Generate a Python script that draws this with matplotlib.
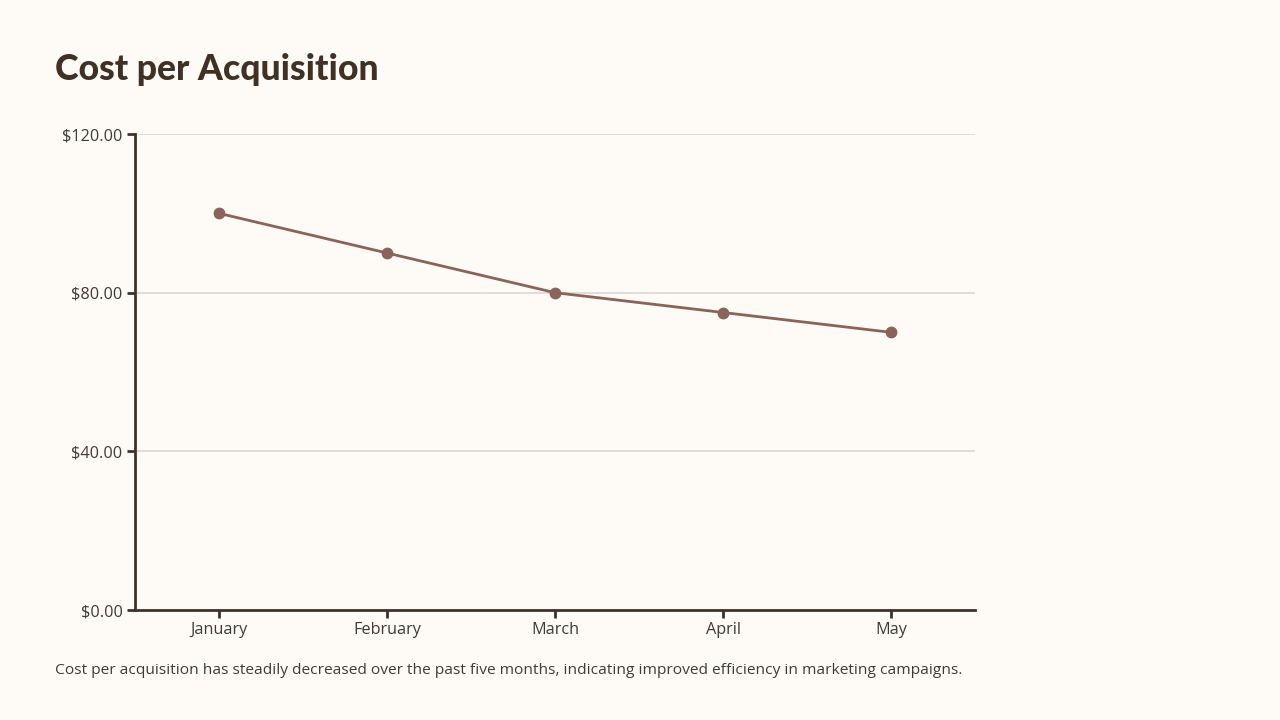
import matplotlib
matplotlib.use("Agg")
import matplotlib.pyplot as plt

months = ["January", "February", "March", "April", "May"]
cpa = [100, 90, 80, 75, 70]
yticks = [0, 40, 80, 120]
ytick_labels = ["$0.00", "$40.00", "$80.00", "$120.00"]

bg = "#FEFBF7"
line_c = "#8A635A"
axis_c = "#3E342B"
text_c = "#3F3A35"
grid_c = "#DCD6D0"

fig = plt.figure(figsize=(12.8, 7.2), dpi=100, facecolor=bg)
ax = fig.add_axes([135/1280, 1-610/720, 840/1280, 476/720])
ax.set_facecolor(bg)

x = list(range(len(months)))
ax.plot(x, cpa, color=line_c, linewidth=2, marker="o", markersize=7.5, zorder=3)

ax.set_xlim(-0.5, 4.5)
ax.set_ylim(0, 120)
ax.set_xticks(x)
ax.set_xticklabels(months, fontfamily="Open Sans", fontsize=11.7, color=text_c)
ax.set_yticks(yticks)
ax.set_yticklabels(ytick_labels, fontfamily="Open Sans", fontsize=11.7, color=text_c)
ax.grid(axis="y", color=grid_c, linewidth=1.2)
ax.set_axisbelow(True)
for s in ["top", "right"]:
    ax.spines[s].set_visible(False)
for s in ["left", "bottom"]:
    ax.spines[s].set_color(axis_c)
    ax.spines[s].set_linewidth(2)
ax.spines["left"].set_zorder(4)
ax.tick_params(axis="both", color=axis_c, width=2, length=6, pad=3)
ax.tick_params(axis="y", pad=3)

fig.text(55/1280, 1-80/720, "Cost per Acquisition", fontfamily="Lato", fontweight="black",
         fontsize=25.7, color="#3F3126", ha="left", va="baseline")
fig.text(55/1280, 1-674/720,
         "Cost per acquisition has steadily decreased over the past five months, indicating improved efficiency in marketing campaigns.",
         fontfamily="Open Sans", fontsize=11.15, color=text_c, ha="left", va="baseline")

fig.savefig("out.png", dpi=100, facecolor=bg)
